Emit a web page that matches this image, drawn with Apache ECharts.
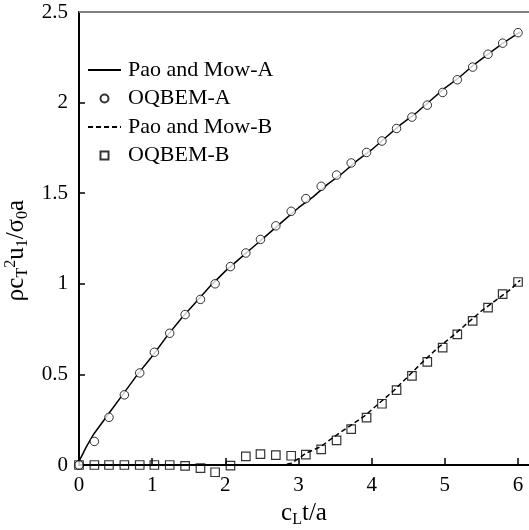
<!DOCTYPE html>
<html>
<head>
<meta charset="utf-8">
<script src="https://cdn.jsdelivr.net/npm/echarts@6/dist/echarts.min.js"></script>
<style>html,body{margin:0;padding:0;background:#fff}#c{width:529px;height:530px}</style>
</head>
<body>
<div id="c"></div>
<script>
// sample positions of the OQBEM results (c_L t / a)
var xPts = [0, 0.21, 0.41, 0.62, 0.83, 1.03, 1.24, 1.45, 1.66, 1.86, 2.07, 2.28, 2.48, 2.69, 2.90,
            3.10, 3.31, 3.52, 3.72, 3.93, 4.14, 4.34, 4.55, 4.76, 4.97, 5.17, 5.38, 5.59, 5.79, 6.00];
var oqbemA = [0, 0.13, 0.263, 0.387, 0.508, 0.622, 0.727, 0.83, 0.914, 1.0, 1.095, 1.17, 1.245, 1.32, 1.40,
              1.47, 1.538, 1.60, 1.667, 1.725, 1.788, 1.857, 1.92, 1.986, 2.056, 2.126, 2.196, 2.267, 2.328, 2.386];
var oqbemB = [0, 0, 0, 0, 0, 0, 0, -0.005, -0.017, -0.04, -0.004, 0.048, 0.06, 0.055, 0.051,
              0.057, 0.086, 0.136, 0.198, 0.262, 0.338, 0.413, 0.492, 0.569, 0.648, 0.721, 0.795, 0.868, 0.943, 1.01];
// analytical curves (Pao and Mow)
var paoAx = [0, 0.1, 0.2, 0.4, 0.6, 0.8, 1.0, 1.2, 1.4, 1.6, 1.8, 2.0, 2.2, 2.4, 2.6, 2.8, 3.0, 3.2, 3.4, 3.6,
             3.8, 4.0, 4.2, 4.4, 4.6, 4.8, 5.0, 5.2, 5.4, 5.6, 5.8, 6.03];
var paoAy = [0.02, 0.1, 0.17, 0.28, 0.39, 0.5, 0.6, 0.71, 0.81, 0.9, 0.99, 1.07, 1.14, 1.21, 1.28, 1.35, 1.42, 1.48, 1.55, 1.61,
             1.68, 1.74, 1.81, 1.88, 1.94, 2.01, 2.08, 2.14, 2.21, 2.27, 2.33, 2.39];
var paoBx = [0, 2.8, 2.9, 3.0, 3.1, 3.3, 3.5, 3.7, 3.9, 4.1, 4.3, 4.5, 4.7, 4.9, 5.1, 5.3, 5.5, 5.7, 5.9, 6.03];
var paoBy = [0, 0, 0.01, 0.035, 0.065, 0.10, 0.16, 0.215, 0.27, 0.34, 0.41, 0.49, 0.57, 0.645, 0.71, 0.78, 0.85, 0.91, 0.97, 1.02];
var xTicks = [0, 1, 2, 3, 4, 5, 6];
var seriesNames = ['Pao and Mow-A', 'OQBEM-A', 'Pao and Mow-B', 'OQBEM-B'];

function zip(a, b) { return a.map(function (v, i) { return [v, b[i]]; }); }

var FONT = '"Liberation Serif", "Times New Roman", serif';
var chart = echarts.init(document.getElementById('c'), null, {renderer: 'canvas'});
chart.setOption({
  animation: false,
  backgroundColor: '#fff',
  grid: {left: 79, right: 0, top: 12, bottom: 65, containLabel: false, outerBoundsMode: 'none'},
  legend: {
    orient: 'vertical', left: 87, top: 59, padding: 0, itemGap: 6.5, itemWidth: 33, itemHeight: 8,
    textStyle: {fontFamily: FONT, fontSize: 22, color: '#000', padding: [0, 0, 0, 2]},
    data: [
      {name: seriesNames[0], itemStyle: {opacity: 0}},
      {name: seriesNames[1]},
      {name: seriesNames[2], itemStyle: {opacity: 0}},
      {name: seriesNames[3], icon: 'path://M0,0H10V10H0Z'}
    ]
  },
  xAxis: {
    type: 'value', min: 0, max: 6.15,
    name: '{m|c}{s|L}{m|t/a}', nameLocation: 'middle', nameGap: 31,
    nameTextStyle: {rich: {
      m: {fontFamily: FONT, fontSize: 25, color: '#000', lineHeight: 28},
      s: {fontFamily: FONT, fontSize: 16, color: '#000', lineHeight: 11, verticalAlign: 'bottom'}
    }},
    axisLine: {onZero: false, lineStyle: {color: '#000', width: 2}},
    axisTick: {show: true, inside: true, length: 7, lineStyle: {color: '#000', width: 1.5}, customValues: xTicks},
    axisLabel: {fontFamily: FONT, fontSize: 21, color: '#000', margin: 10, customValues: xTicks},
    splitLine: {show: false}
  },
  yAxis: {
    type: 'value', min: 0, max: 2.5, interval: 0.5,
    name: '{m|ρc}{s|T}{p|2}{m|u}{s|1}{m|/σ}{s|0}{m|a}', nameLocation: 'middle', nameGap: 47, nameRotate: 90,
    nameTextStyle: {padding: [0, 24, 0, 0], rich: {
      m: {fontFamily: FONT, fontSize: 25, color: '#000', lineHeight: 28},
      s: {fontFamily: FONT, fontSize: 16, color: '#000', lineHeight: 11, verticalAlign: 'bottom'},
      p: {fontFamily: FONT, fontSize: 16, color: '#000', lineHeight: 11, verticalAlign: 'top'}
    }},
    axisLine: {show: true, lineStyle: {color: '#000', width: 2}},
    axisTick: {show: true, inside: true, length: 6, lineStyle: {color: '#000', width: 1.5}},
    axisLabel: {fontFamily: FONT, fontSize: 21, color: '#000', margin: 11},
    splitLine: {show: false}
  },
  series: [
    {name: seriesNames[0], type: 'line', data: zip(paoAx, paoAy), showSymbol: false, symbol: 'none',
     lineStyle: {color: '#000', width: 1.5}, itemStyle: {color: '#000'}, z: 3,
     markLine: {silent: true, symbol: 'none', label: {show: false},
                lineStyle: {color: '#808080', width: 2, type: 'solid'},
                data: [{yAxis: 2.5}]}},
    {name: seriesNames[1], type: 'scatter', data: zip(xPts, oqbemA), symbol: 'circle', symbolSize: 8.5,
     itemStyle: {color: '#fff', borderColor: '#000', borderWidth: 1}, z: 4, clip: false},
    {name: seriesNames[2], type: 'line', data: zip(paoBx, paoBy), showSymbol: false, symbol: 'none',
     lineStyle: {color: '#000', width: 1.5, type: [5, 3]}, itemStyle: {color: '#000'}, z: 3},
    {name: seriesNames[3], type: 'scatter', data: zip(xPts, oqbemB), symbol: 'rect', symbolSize: 8.5,
     itemStyle: {color: 'rgba(0,0,0,0)', borderColor: '#000', borderWidth: 1.2}, z: 4, clip: false}
  ]
});
</script>
</body>
</html>
